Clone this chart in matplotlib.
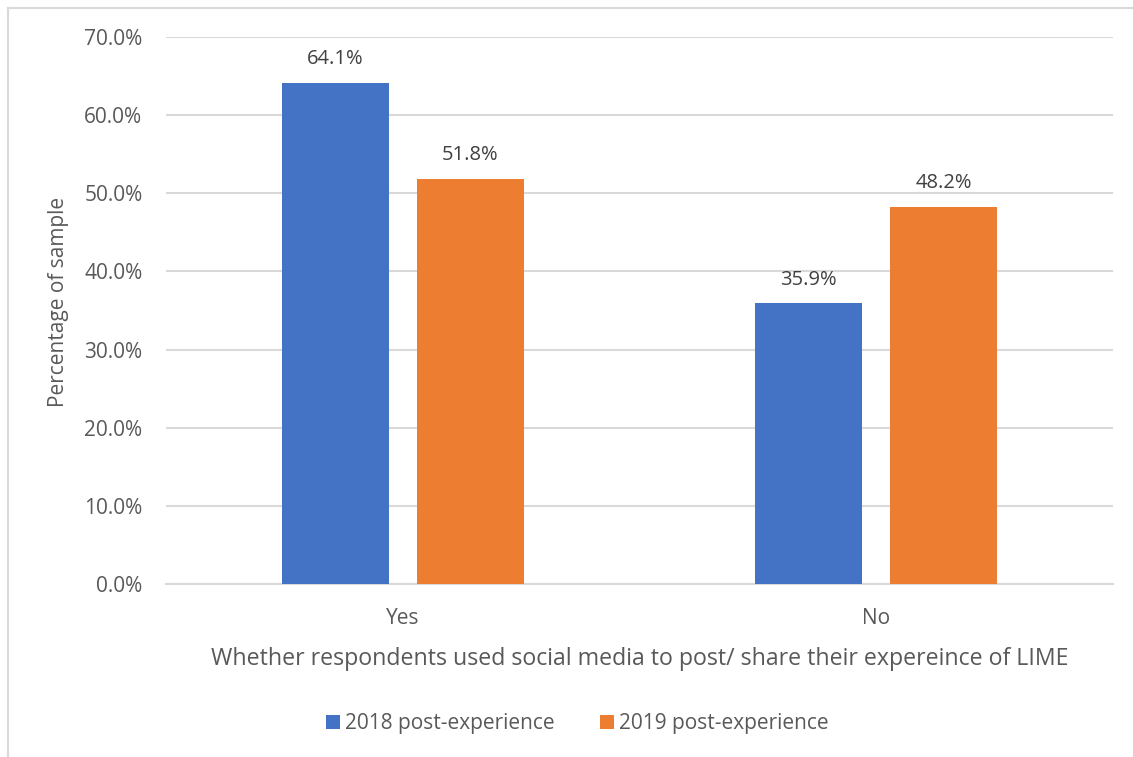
import matplotlib
matplotlib.use("Agg")
import matplotlib.pyplot as plt
from matplotlib.lines import Line2D
from matplotlib.patches import Patch
import numpy as np

categories = ["Yes", "No"]
series_names = ["2018 post-experience", "2019 post-experience"]
values_2018 = [64.1, 35.9]
values_2019 = [51.8, 48.2]
colors = ["#4472C4", "#ED7D31"]
y_ticks = [0, 10, 20, 30, 40, 50, 60, 70]

text_color = "#595959"
plt.rcParams["font.family"] = ["Open Sans", "DejaVu Sans"]

fig = plt.figure(figsize=(11.33, 7.57), dpi=100)
W, H = 1133, 757
ax = fig.add_axes([166 / W, 1 - 584 / H, (1113 - 166) / W, (584 - 37) / H])

x = np.arange(len(categories))
bw = 0.226
off = 0.1425
b1 = ax.bar(x - off, values_2018, bw, color=colors[0], zorder=3)
b2 = ax.bar(x + off, values_2019, bw, color=colors[1], zorder=3)

for bars, vals in ((b1, values_2018), (b2, values_2019)):
    for rect, v in zip(bars, vals):
        ax.annotate(f"{v:.1f}%", (rect.get_x() + rect.get_width() / 2, v),
                    xytext=(0, 10), textcoords="offset points",
                    ha="center", va="bottom", fontsize=14.5, color="#404040")

ax.set_xlim(-0.5, 1.5)
ax.set_ylim(0, 70)
ax.set_yticks(y_ticks)
ax.set_yticklabels([f"{t:.1f}%" for t in y_ticks])
ax.set_xticks(x)
ax.set_xticklabels(categories)
ax.yaxis.grid(True, color="#D9D9D9", linewidth=1.5, zorder=0)
ax.set_axisbelow(True)
for s in ("top", "right", "left"):
    ax.spines[s].set_visible(False)
ax.spines["bottom"].set_color("#D9D9D9")
ax.spines["bottom"].set_linewidth(1.5)
ax.tick_params(axis="both", length=0, labelsize=15, colors=text_color)
ax.tick_params(axis="y", pad=17)
ax.tick_params(axis="x", pad=17)

ax.set_ylabel("Percentage of sample", fontsize=15, color=text_color)
ax.yaxis.set_label_coords(-97 / (1113 - 166), 0.516)
ax.set_xlabel("Whether respondents used social media to post/ share their expereince of LIME",
              fontsize=16.7, color=text_color, labelpad=13)

handles = [Patch(facecolor=c) for c in colors]
fig.legend(handles, series_names, loc="center", bbox_to_anchor=(0.5 + 11 / W, 1 - 724 / H),
           ncol=2, frameon=False, fontsize=15, labelcolor=text_color,
           handlelength=0.65, handleheight=0.65, handletextpad=0.25, columnspacing=2.2)

# outer chart border (top and left edges)
fig.add_artist(Line2D([8 / W, 1], [1 - 8 / H, 1 - 8 / H], color="#D9D9D9", lw=1.5,
                      transform=fig.transFigure))
fig.add_artist(Line2D([8 / W, 8 / W], [0, 1 - 8 / H], color="#D9D9D9", lw=1.5,
                      transform=fig.transFigure))

fig.savefig("out.png", dpi=100, facecolor="white")
